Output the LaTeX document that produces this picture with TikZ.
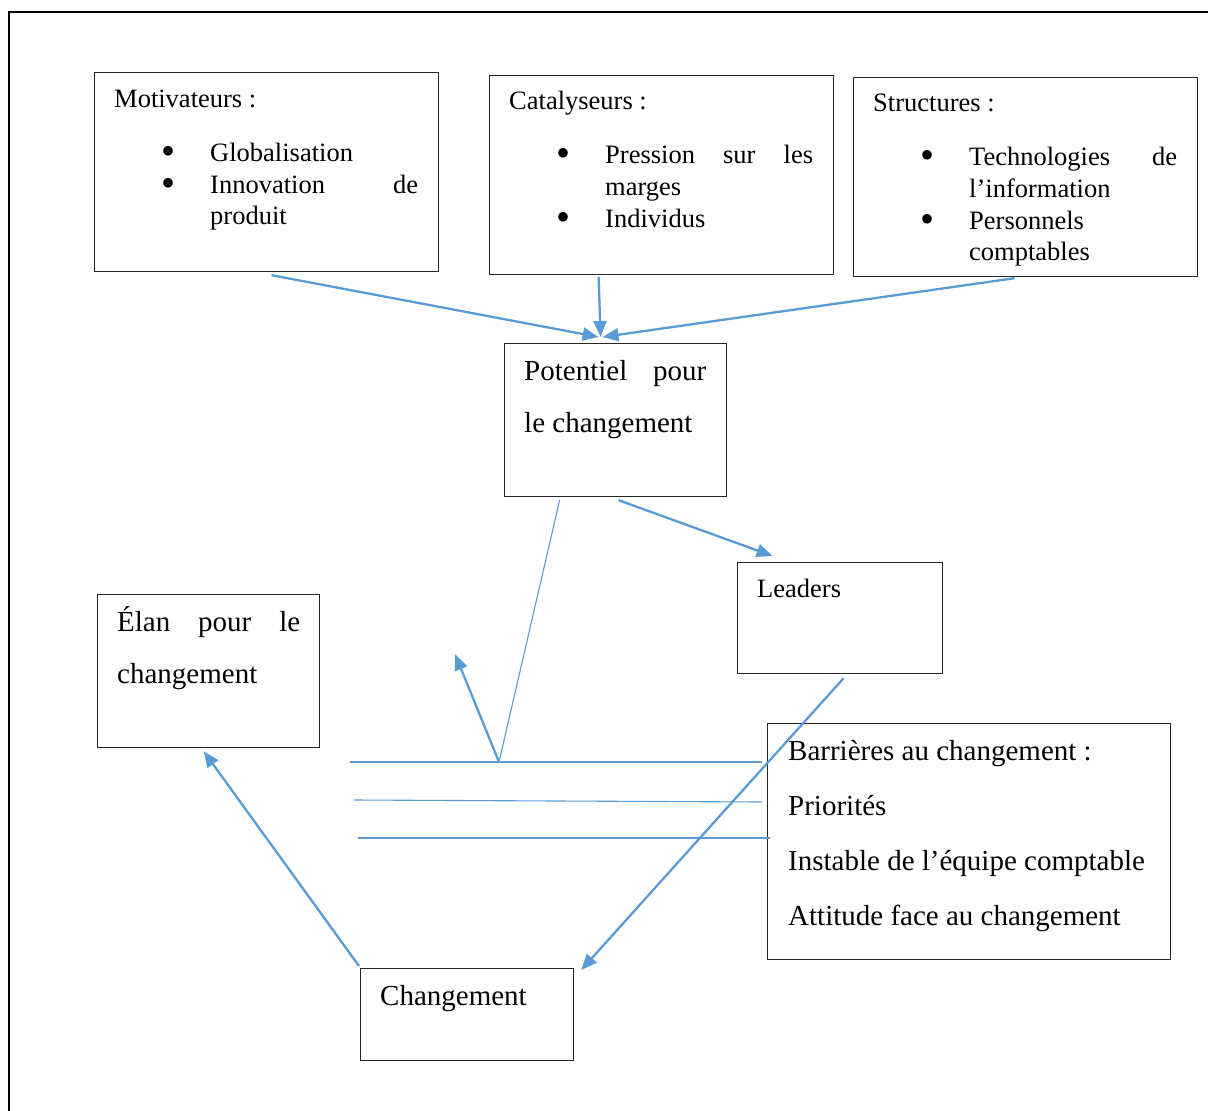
\documentclass[tikz,border=0pt]{standalone}
\usepackage{fontspec}
\setmainfont{Liberation Serif}
\usetikzlibrary{arrows.meta}
\definecolor{lblue}{HTML}{5B9BD5}
\begin{document}
\begin{tikzpicture}[x=1pt,y=-1pt,
  box/.style={draw=black!85,line width=1.2pt,inner sep=0pt,anchor=north west},
  sm/.style={anchor=base west,inner sep=0pt,font=\fontsize{26.5}{31.5}\selectfont},
  lg/.style={anchor=base west,inner sep=0pt,font=\fontsize{29}{55}\selectfont},
  bul/.style={anchor=base,inner sep=0pt,font=\fontsize{40}{40}\selectfont},
  arr/.style={draw=lblue,line width=2.3pt,-{Triangle[length=16pt,width=13pt]}},
  ln/.style={draw=lblue,line width=2pt},
  thin/.style={draw=lblue,line width=1.1pt}]
\useasboundingbox (0,0) rectangle (1208,1111);
% outer frame
\draw[line width=2pt] (9,1111) -- (9,12) -- (1208,12);

% boxes
\node[box,minimum width=344pt,minimum height=199pt] (mot) at (94,72) {};
\node[box,minimum width=344pt,minimum height=199pt] (cat) at (489,75) {};
\node[box,minimum width=344pt,minimum height=199pt] (str) at (853,77) {};
\node[box,minimum width=222pt,minimum height=153pt] (pot) at (504,343) {};
\node[box,minimum width=205pt,minimum height=111pt] (lea) at (737,562) {};
\node[box,minimum width=222pt,minimum height=153pt] (ela) at (97,594) {};
\node[box,minimum width=403pt,minimum height=236pt] (bar) at (767,723) {};
\node[box,minimum width=213pt,minimum height=92pt] (chg) at (360,968) {};

% Motivateurs
\node[sm] (motT) at (114,107) {Motivateurs :};
\node[bul] (motB1) at (168,164) {\smash{\textbullet}};
\node[sm] (motL1) at (210,161) {Globalisation};
\node[bul] (motB2) at (168,196) {\smash{\textbullet}};
\node[sm] (motL2) at (210,193) {\makebox[208pt][s]{Innovation de}};
\node[sm] (motL3) at (210,224) {produit};

% Catalyseurs
\node[sm] (catT) at (509,109) {Catalyseurs :};
\node[bul] (catB1) at (563,166) {\smash{\textbullet}};
\node[sm] (catL1) at (605,163) {\makebox[208pt][s]{Pression sur les}};
\node[sm] (catL2) at (605,195) {marges};
\node[bul] (catB2) at (563,230) {\smash{\textbullet}};
\node[sm] (catL3) at (605,227) {Individus};

% Structures
\node[sm] (strT) at (873,111) {Structures :};
\node[bul] (strB1) at (927,168) {\smash{\textbullet}};
\node[sm] (strL1) at (969,165) {\makebox[208pt][s]{Technologies de}};
\node[sm] (strL2) at (969,197) {l’information};
\node[bul] (strB2) at (927,232) {\smash{\textbullet}};
\node[sm] (strL3) at (969,229) {Personnels};
\node[sm] (strL4) at (969,260) {comptables};

% Potentiel
\node[lg] (potL1) at (524,380) {\makebox[182pt][s]{Potentiel pour}};
\node[lg] (potL2) at (524,432) {le changement};

% Leaders
\node[sm] (leaT) at (757,597) {Leaders};

% Elan
\node[lg] (elaL1) at (117,631) {\makebox[183pt][s]{Élan pour le}};
\node[lg] (elaL2) at (117,683) {changement};

% Barrieres
\node[lg] (barL1) at (788,760) {Barrières au changement :};
\node[lg] (barL2) at (788,815) {Priorités};
\node[lg] (barL3) at (788,870) {Instable de l’équipe comptable};
\node[lg] (barL4) at (788,925) {Attitude face au changement};

% Changement
\node[lg] (chgT) at (380,1005) {Changement};

% coordinates for free lines
\coordinate (v) at (499,762);
\coordinate (h1a) at (350,762);
\coordinate (h1b) at (762,762);
\coordinate (h2a) at (354,800);
\coordinate (h2b) at (762,802);
\coordinate (h3a) at (358,838);
\coordinate (h3b) at (770,838);
\coordinate (up) at (455,654);

% connectors
\draw[arr] ([xshift=5pt,yshift=-3pt]mot.south) -- ([xshift=-17pt,yshift=6pt]pot.north);
\draw[arr] ([xshift=-63pt,yshift=-2pt]cat.south) -- ([xshift=-15pt,yshift=6pt]pot.north);
\draw[arr] ([xshift=-11pt,yshift=-1pt]str.south) -- ([xshift=-13pt,yshift=6pt]pot.north);
\draw[arr] ([xshift=3pt,yshift=-3pt]pot.south) -- ([xshift=-67.5pt,yshift=6pt]lea.north);
\draw[thin] ([xshift=-56pt,yshift=-3pt]pot.south) -- (v);
\draw[arr] (v) -- (up);
\draw[ln] (h1a) -- (h1b);
\draw[thin] (h2a) -- (h2b);
\draw[ln] (h3a) -- (h3b);
\draw[arr] ([xshift=3.5pt,yshift=-4pt]lea.south) -- ([xshift=7pt,yshift=-2pt]chg.north east);
\draw[arr] ([xshift=-1pt,yshift=2pt]chg.north west) -- ([xshift=-5pt,yshift=-3pt]ela.south);
\end{tikzpicture}
\end{document}
